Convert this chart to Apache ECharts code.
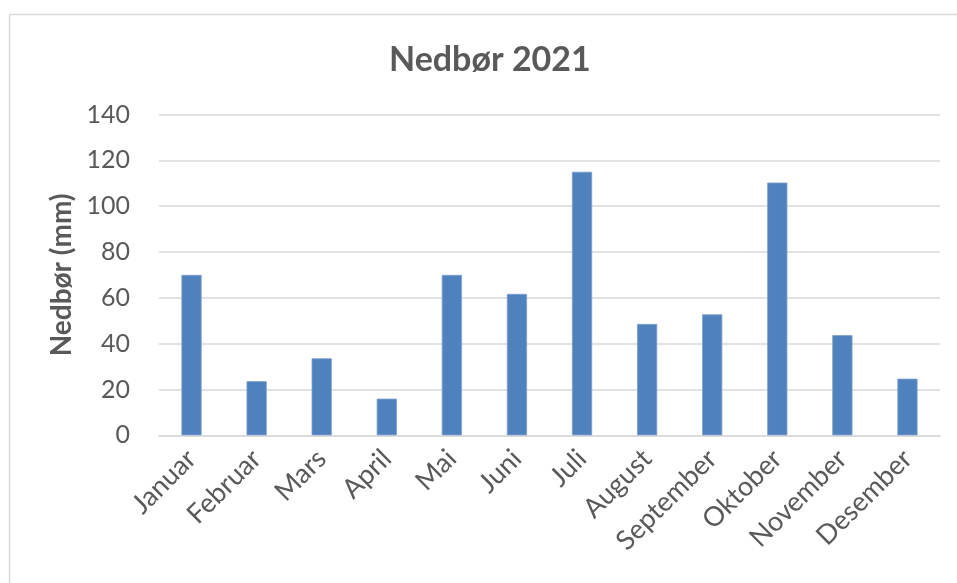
<!DOCTYPE html>
<html>
<head>
<meta charset="utf-8">
<script src="https://cdn.jsdelivr.net/npm/echarts@6/dist/echarts.min.js"></script>
<style>html,body{margin:0;padding:0;background:#fff;}#c{width:957px;height:583px;}</style>
</head>
<body>
<div id="c"></div>
<script>
const titleText = 'Nedbør 2021';
const yAxisName = 'Nedbør (mm)';
const categories = ['Januar','Februar','Mars','April','Mai','Juni','Juli','August','September','Oktober','November','Desember'];
const values = [70, 23.6, 33.6, 16, 70, 61.7, 115, 48.6, 52.8, 110.3, 43.7, 24.7];
const yTicks = [0, 20, 40, 60, 80, 100, 120, 140];

const FONT = 'Lato';
const chart = echarts.init(document.getElementById('c'), null, {renderer: 'canvas'});
chart.setOption({
  backgroundColor: '#ffffff',
  animation: false,
  title: {
    text: titleText,
    left: 384,
    top: 38,
    textStyle: {fontFamily: FONT, fontWeight: 'bold', fontSize: 34, color: '#595959'}
  },
  graphic: [
    {type: 'line', shape: {x1: 9.5, y1: 14.5, x2: 957, y2: 14.5}, style: {stroke: '#d9d9d9', lineWidth: 1.5}},
    {type: 'line', shape: {x1: 9.5, y1: 14.5, x2: 9.5, y2: 583}, style: {stroke: '#d9d9d9', lineWidth: 1.5}}
  ],
  grid: {left: 159, right: 17, top: 114.5, bottom: 147.7, containLabel: false},
  xAxis: {
    type: 'category',
    data: categories,
    axisLine: {show: true, lineStyle: {color: '#d9d9d9', width: 1.5}},
    axisTick: {show: false},
    axisLabel: {rotate: 45, margin: 19, fontFamily: FONT, fontSize: 27, color: '#595959', interval: 0}
  },
  yAxis: {
    type: 'value',
    min: yTicks[0],
    max: yTicks[yTicks.length - 1],
    interval: 20,
    name: yAxisName,
    nameLocation: 'middle',
    nameGap: 82,
    nameRotate: 90,
    nameTextStyle: {fontFamily: FONT, fontWeight: 'bold', fontSize: 28, color: '#595959'},
    axisLine: {show: false},
    axisTick: {show: false},
    axisLabel: {margin: 29, fontFamily: FONT, fontSize: 25, color: '#595959'},
    splitLine: {lineStyle: {color: '#d9d9d9', width: 1.5}}
  },
  series: [{
    type: 'bar',
    data: values,
    barWidth: '31%',
    itemStyle: {color: '#4f81bd', borderColor: '#7a9fd0', borderWidth: 0.8}
  }]
});
</script>
</body>
</html>
